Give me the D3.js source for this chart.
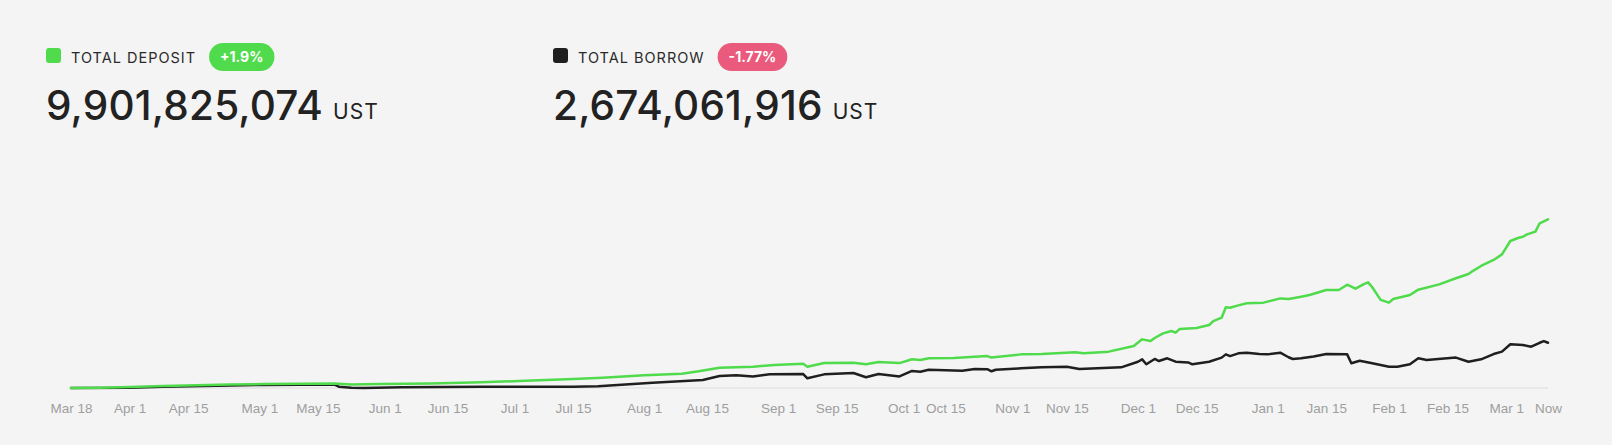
<!DOCTYPE html>
<html>
<head>
<meta charset="utf-8">
<script src="https://cdn.jsdelivr.net/npm/d3@7"></script>
<style>
  html, body { margin: 0; padding: 0; background: #f4f4f4; }
  svg { display: block; }
  .stat-label { font-family: Inter, sans-serif; font-size: 14.5px; font-weight: 400; letter-spacing: 1px; fill: #2a2a2a; }
  .stat-badge-text { font-family: Inter, sans-serif; font-size: 14px; font-weight: 700; fill: #fff; }
  .stat-value { font-family: Inter, sans-serif; font-size: 40.5px; font-weight: 500; letter-spacing: 0.2px; fill: #222; }
  .stat-unit { font-family: Inter, sans-serif; font-size: 21px; font-weight: 400; letter-spacing: 1px; fill: #222; }
  .tick-label { font-family: "Liberation Sans", Arial, sans-serif; font-size: 13.5px; fill: #9e9e9e; }
</style>
</head>
<body>
<svg id="chart" width="1612" height="445"></svg>
<script>
// header stats
const statLabels = ['TOTAL DEPOSIT', 'TOTAL BORROW'];
const statValues = ['9,901,825,074', '2,674,061,916'];
const statChanges = ['+1.9%', '-1.77%'];
const statUnit = 'UST';

// x axis ticks (position = day index in the data feed)
const tickLabels = ['Mar 18', 'Apr 1', 'Apr 15', 'May 1', 'May 15', 'Jun 1', 'Jun 15', 'Jul 1', 'Jul 15',
  'Aug 1', 'Aug 15', 'Sep 1', 'Sep 15', 'Oct 1', 'Oct 15', 'Nov 1', 'Nov 15', 'Dec 1', 'Dec 15',
  'Jan 1', 'Jan 15', 'Feb 1', 'Feb 15', 'Mar 1', 'Now'];
const tickDays = [0, 14, 28, 45, 59, 75, 90, 106, 120, 137, 152, 169, 183, 199, 209, 225, 238, 255, 269,
  286, 300, 315, 329, 343, 353];

// total deposit, billions UST
const depositDays = [0, 7, 14, 22, 30, 38, 46, 55, 63, 67, 74, 86, 98, 107, 120, 127, 137, 146, 150, 155,
  159, 163, 168, 175, 176, 180, 187, 190, 193, 198, 201, 203, 205, 211, 219, 220, 227, 232, 240, 242,
  248, 254, 256, 258, 259, 261, 263, 264, 265, 269, 272, 273, 275, 276, 277, 279, 281, 285, 289, 291,
  294, 296, 300, 303, 305, 307, 309, 310, 311, 313, 315, 316, 320, 322, 327, 331, 334, 335, 337, 340,
  342, 344, 346, 347, 348, 350, 351, 353];
const depositBn = [0.0, 0.02, 0.06, 0.12, 0.16, 0.2, 0.23, 0.25, 0.27, 0.21, 0.23, 0.27, 0.33, 0.41, 0.53, 0.6, 0.74, 0.84, 0.98, 1.19,
  1.21, 1.25, 1.35, 1.42, 1.25, 1.46, 1.48, 1.39, 1.52, 1.46, 1.68, 1.64, 1.74, 1.76, 1.87, 1.78, 1.97, 1.99, 2.09, 2.03,
  2.13, 2.46, 2.85, 2.75, 2.93, 3.2, 3.34, 3.24, 3.46, 3.51, 3.69, 3.92, 4.12, 4.73, 4.7, 4.84, 4.96, 5.0, 5.25, 5.21,
  5.35, 5.45, 5.74, 5.74, 6.05, 5.82, 6.09, 6.19, 5.9, 5.16, 5.0, 5.21, 5.45, 5.76, 6.07, 6.43, 6.68, 6.85, 7.15, 7.5,
  7.83, 8.61, 8.8, 8.86, 9.0, 9.16, 9.65, 9.88];

// total borrow, billions UST
const borrowDays = [0, 14, 22, 38, 46, 63, 64, 67, 70, 79, 98, 107, 120, 126, 139, 151, 155, 159, 163, 167, 175,
  176, 180, 187, 190, 193, 198, 201, 203, 205, 213, 216, 219, 220, 221, 227, 232, 238, 241, 251, 255,
  256, 257, 259, 260, 262, 264, 267, 268, 272, 275, 276, 277, 279, 281, 284, 286, 289, 291, 292, 294,
  297, 300, 305, 306, 308, 311, 315, 317, 320, 322, 324, 331, 334, 337, 340, 342, 344, 347, 349, 351,
  352, 353];
const borrowBn = [0.0, 0.02, 0.08, 0.14, 0.18, 0.2, 0.08, 0.01, 0.0, 0.05, 0.08, 0.08, 0.08, 0.1, 0.31, 0.47, 0.7, 0.74, 0.68, 0.8, 0.82,
  0.57, 0.8, 0.88, 0.63, 0.82, 0.68, 1.0, 0.95, 1.07, 1.01, 1.11, 1.1, 0.98, 1.07, 1.15, 1.21, 1.25, 1.11, 1.21, 1.54,
  1.68, 1.39, 1.7, 1.58, 1.74, 1.54, 1.5, 1.39, 1.54, 1.78, 1.97, 1.87, 2.03, 2.07, 1.99, 1.97, 2.07, 1.8, 1.7, 1.74,
  1.85, 1.99, 1.97, 1.45, 1.6, 1.45, 1.25, 1.25, 1.39, 1.74, 1.64, 1.78, 1.54, 1.68, 1.99, 2.13, 2.56, 2.52, 2.42, 2.65,
  2.75, 2.65];

const GREEN = '#4fdb4b';
const DARK = '#1f1f1f';
const PINK = '#e95a7d';

const $svg = d3.select('#chart');

// ---- header ----
const statsDS = statLabels.map((label, i) => ({
  label, value: statValues[i], change: statChanges[i],
  x: [46, 553][i], color: [GREEN, DARK][i], badge: [GREEN, PINK][i]
}));

const $stat = $svg.selectAll('g.stat').data(statsDS)
  .enter().append('g')
    .attr('class', 'stat')
    .attr('transform', d => `translate(${d.x},0)`);

$stat.append('rect')
  .attr('x', 0).attr('y', 48)
  .attr('width', 15).attr('height', 15)
  .attr('rx', 3)
  .attr('fill', d => d.color);

$stat.append('text')
  .attr('class', 'stat-label')
  .attr('x', 25).attr('y', 62.5)
  .text(d => d.label);

// badge sits right after the label
$stat.each(function(d) {
  const g = d3.select(this);
  const labelW = g.select('text.stat-label').node().getComputedTextLength();
  const bx = 25 + labelW + 13;
  const t = g.append('text')
    .attr('class', 'stat-badge-text')
    .attr('y', 62)
    .attr('text-anchor', 'middle')
    .text(d.change);
  const tw = t.node().getComputedTextLength();
  const bw = tw + 22;
  g.insert('rect', 'text.stat-badge-text')
    .attr('x', bx).attr('y', 43)
    .attr('width', bw).attr('height', 28)
    .attr('rx', 14)
    .attr('fill', d.badge);
  t.attr('x', bx + bw / 2);
});

$stat.append('text')
  .attr('class', 'stat-value')
  .attr('x', 0).attr('y', 120)
  .text(d => d.value);

$stat.each(function() {
  const g = d3.select(this);
  const vw = g.select('text.stat-value').node().getComputedTextLength();
  g.append('text')
    .attr('class', 'stat-unit')
    .attr('x', vw + 10).attr('y', 119)
    .text(statUnit);
});

// ---- chart ----
const x = d3.scaleLinear().domain([0, 353]).range([71, 1548]);
const y = d3.scaleLinear().domain([0, 10]).range([388, 217.3]);

$svg.append('line')
  .attr('x1', x(0)).attr('x2', x(353))
  .attr('y1', y(0)).attr('y2', y(0))
  .attr('stroke', '#dcdcdc')
  .attr('stroke-width', 1);

const xAxis = d3.axisBottom(x)
  .tickValues(tickDays)
  .tickFormat((_, i) => tickLabels[i])
  .tickSize(0)
  .tickPadding(0);

const $axis = $svg.append('g')
  .attr('transform', `translate(0,${y(0) + 15})`)
  .call(xAxis);
$axis.select('.domain').remove();
$axis.selectAll('text')
  .attr('class', 'tick-label')
  .attr('dy', '0.71em')
  .attr('fill', null)
  .attr('font-family', null)
  .attr('font-size', null);

const line = d3.line()
  .x(d => x(d[0]))
  .y(d => y(d[1]));

const seriesDS = [
  {name: 'borrow', color: DARK, points: d3.zip(borrowDays, borrowBn)},
  {name: 'deposit', color: GREEN, points: d3.zip(depositDays, depositBn)}
];

$svg.selectAll('path.series').data(seriesDS)
  .enter().append('path')
    .attr('class', 'series')
    .attr('fill', 'none')
    .attr('stroke', d => d.color)
    .attr('stroke-width', 2.5)
    .attr('stroke-linejoin', 'round')
    .attr('stroke-linecap', 'round')
    .attr('d', d => line(d.points));
</script>
</body>
</html>
